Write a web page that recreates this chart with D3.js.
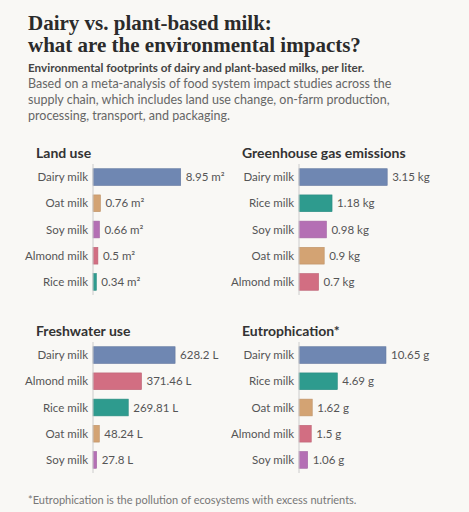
<!DOCTYPE html>
<html>
<head>
<meta charset="utf-8">
<script src="https://cdn.jsdelivr.net/npm/d3@7"></script>
<style>
  body { margin: 0; background: #f9f8f5; }
  svg { display: block; }
  .cat { font-family: Lato, sans-serif; font-size: 11.5px; fill: #555; }
  .val { font-family: Lato, sans-serif; font-size: 11.5px; fill: #555; }
  .ptitle { font-family: Lato, sans-serif; font-size: 14px; font-weight: bold; fill: #333; }
</style>
</head>
<body>
<div id="chart"></div>
<script>
// panel data
const landCats = ['Dairy milk', 'Oat milk', 'Soy milk', 'Almond milk', 'Rice milk'];
const landVals = [8.95, 0.76, 0.66, 0.5, 0.34];
const ghgCats = ['Dairy milk', 'Rice milk', 'Soy milk', 'Oat milk', 'Almond milk'];
const ghgVals = [3.15, 1.18, 0.98, 0.9, 0.7];
const waterCats = ['Dairy milk', 'Almond milk', 'Rice milk', 'Oat milk', 'Soy milk'];
const waterVals = [628.2, 371.46, 269.81, 48.24, 27.8];
const eutroCats = ['Dairy milk', 'Rice milk', 'Oat milk', 'Almond milk', 'Soy milk'];
const eutroVals = [10.65, 4.69, 1.62, 1.5, 1.06];

const panelTitles = ['Land use', 'Greenhouse gas emissions', 'Freshwater use', 'Eutrophication*'];
const panelUnits = ['m²', 'kg', 'L', 'g'];
const panelMax = [10, 3.5, 750, 12];

const colors = {
    'Dairy milk': '#6f87b2',
    'Oat milk': '#d3a373',
    'Soy milk': '#b46fb4',
    'Almond milk': '#d26e82',
    'Rice milk': '#2e9b8e'
};

const width = 469;
const height = 512;

const svg = d3.select('#chart')
    .append('svg')
    .attr('width', width)
    .attr('height', height);

svg.append('rect').attr('width', width).attr('height', height).attr('fill', '#f9f8f5');

// header
const title = svg.append('text')
    .attr('x', 28)
    .attr('font-family', '"Liberation Serif", serif')
    .attr('font-weight', 'bold')
    .attr('font-size', 21)
    .attr('fill', '#2b2b2b');
title.append('tspan').attr('x', 28).attr('y', 30).text('Dairy vs. plant-based milk:');
title.append('tspan').attr('x', 28).attr('y', 52).text('what are the environmental impacts?');

svg.append('text')
    .attr('x', 28).attr('y', 72)
    .attr('font-family', 'Lato, sans-serif')
    .attr('font-weight', 'bold')
    .attr('font-size', 11.7)
    .attr('fill', '#444')
    .text('Environmental footprints of dairy and plant-based milks, per liter.');

const body = [
    'Based on a meta-analysis of food system impact studies across the',
    'supply chain, which includes land use change, on-farm production,',
    'processing, transport, and packaging.'
];
svg.append('g').selectAll('text')
    .data(body)
    .enter()
    .append('text')
    .attr('x', 28)
    .attr('y', (d, i) => 88 + i * 16)
    .attr('font-family', 'Lato, sans-serif')
    .attr('font-size', 12.5)
    .attr('fill', '#666')
    .text(d => d);

// panels
const panels = [
    { cats: landCats, vals: landVals, x: 93, y: 164 },
    { cats: ghgCats, vals: ghgVals, x: 299, y: 164 },
    { cats: waterCats, vals: waterVals, x: 93, y: 342 },
    { cats: eutroCats, vals: eutroVals, x: 299, y: 342 }
];

const barWidth = 98;
const plotHeight = 131;

panels.forEach((p, k) => {
    const g = svg.append('g').attr('transform', `translate(${p.x}, ${p.y})`);

    const x = d3.scaleLinear().domain([0, panelMax[k]]).range([0, barWidth]);
    const y = d3.scaleBand().domain(p.cats).range([0, plotHeight]).paddingInner(0.36).paddingOuter(0.18);

    g.append('text')
        .attr('class', 'ptitle')
        .attr('x', -57)
        .attr('y', -6)
        .text(panelTitles[k]);

    const rows = g.selectAll('g.row')
        .data(p.cats.map((c, i) => ({ cat: c, val: p.vals[i] })))
        .enter()
        .append('g')
        .attr('class', 'row');

    rows.append('rect')
        .attr('x', 0)
        .attr('y', d => y(d.cat))
        .attr('width', d => x(d.val))
        .attr('height', y.bandwidth())
        .attr('fill', d => colors[d.cat])
        .attr('stroke', d => d3.color(colors[d.cat]).darker(0.3))
        .attr('stroke-width', 0.6);

    rows.append('text')
        .attr('class', 'cat')
        .attr('x', -5)
        .attr('y', d => y(d.cat) + y.bandwidth() / 2)
        .attr('dy', '.35em')
        .attr('text-anchor', 'end')
        .text(d => d.cat);

    rows.append('text')
        .attr('class', 'val')
        .attr('x', d => x(d.val) + 5)
        .attr('y', d => y(d.cat) + y.bandwidth() / 2)
        .attr('dy', '.35em')
        .text(d => `${d.val} ${panelUnits[k]}`);

    g.append('line')
        .attr('x1', 0).attr('x2', 0)
        .attr('y1', 0).attr('y2', plotHeight)
        .attr('stroke', '#ccc')
        .attr('stroke-width', 1);
});

svg.append('text')
    .attr('x', 28).attr('y', 504)
    .attr('font-family', 'Lato, sans-serif')
    .attr('font-size', 11)
    .attr('fill', '#777')
    .text('*Eutrophication is the pollution of ecosystems with excess nutrients.');
</script>
</body>
</html>
